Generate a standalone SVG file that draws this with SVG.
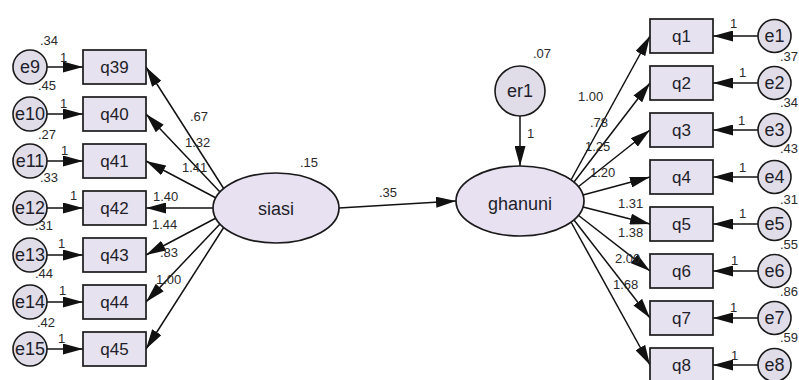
<svg xmlns="http://www.w3.org/2000/svg" width="799" height="380" viewBox="0 0 799 380">
  <style>
    .obs { fill: #e7e2ef; stroke: #1a1a1a; stroke-width: 1.7; }
    .lat { fill: #e8e1f1; stroke: #1a1a1a; stroke-width: 1.7; }
    .err { fill: #e0dde8; stroke: #1a1a1a; stroke-width: 1.6; }
    .path { stroke: #111; stroke-width: 1.5; fill: none; marker-end: url(#arr); }
    .nm { font-family: "Liberation Sans", Arial, sans-serif; font-size: 17px; fill: #1e1e2a; text-anchor: middle; }
    .lv { font-family: "Liberation Sans", Arial, sans-serif; font-size: 18px; fill: #1e1e2a; text-anchor: middle; }
    .est { font-family: "Liberation Sans", Arial, sans-serif; font-size: 13px; fill: #2a2a2a; }
  </style>
  <defs>
    <marker id="arr" markerUnits="userSpaceOnUse" markerWidth="20" markerHeight="11" refX="20" refY="5.5" orient="auto">
      <path d="M0,0 L20,5.5 L0,11 z" fill="#111"/>
    </marker>
  </defs>
  <rect width="799" height="380" fill="#ffffff"/>

  <!-- connectors -->
  <g id="connectors">
    <!-- siasi loadings -->
    <line class="path" x1="224" y1="189" x2="146" y2="67"/>
    <line class="path" x1="220" y1="192" x2="146" y2="114"/>
    <line class="path" x1="216" y1="198" x2="146" y2="161"/>
    <line class="path" x1="213" y1="208" x2="146" y2="208"/>
    <line class="path" x1="216" y1="218" x2="146" y2="255"/>
    <line class="path" x1="220" y1="224" x2="146" y2="302"/>
    <line class="path" x1="224" y1="227" x2="146" y2="349"/>
    <!-- left error terms -->
    <line class="path" x1="47" y1="67" x2="83" y2="67"/>
    <line class="path" x1="47" y1="114" x2="83" y2="114"/>
    <line class="path" x1="47" y1="161" x2="83" y2="161"/>
    <line class="path" x1="47" y1="208" x2="83" y2="208"/>
    <line class="path" x1="47" y1="255" x2="83" y2="255"/>
    <line class="path" x1="47" y1="302" x2="83" y2="302"/>
    <line class="path" x1="47" y1="349" x2="83" y2="349"/>
    <!-- structural path and disturbance -->
    <line class="path" x1="339" y1="208" x2="456" y2="201"/>
    <line class="path" x1="520" y1="116" x2="520" y2="166"/>
    <!-- ghanuni loadings -->
    <line class="path" x1="571" y1="180" x2="650" y2="36"/>
    <line class="path" x1="574" y1="182" x2="650" y2="83"/>
    <line class="path" x1="578" y1="187" x2="650" y2="130"/>
    <line class="path" x1="583" y1="195" x2="650" y2="177"/>
    <line class="path" x1="583" y1="207" x2="650" y2="224"/>
    <line class="path" x1="578" y1="215" x2="650" y2="271"/>
    <line class="path" x1="574" y1="220" x2="650" y2="318"/>
    <line class="path" x1="571" y1="222" x2="650" y2="365"/>
    <!-- right error terms -->
    <line class="path" x1="758" y1="36" x2="713" y2="36"/>
    <line class="path" x1="758" y1="83" x2="713" y2="83"/>
    <line class="path" x1="758" y1="130" x2="713" y2="130"/>
    <line class="path" x1="758" y1="177" x2="713" y2="177"/>
    <line class="path" x1="758" y1="224" x2="713" y2="224"/>
    <line class="path" x1="758" y1="271" x2="713" y2="271"/>
    <line class="path" x1="758" y1="318" x2="713" y2="318"/>
    <line class="path" x1="758" y1="365" x2="713" y2="365"/>
  </g>

  <!-- latent variables -->
  <g id="siasi">
    <ellipse class="lat" cx="276" cy="208" rx="63" ry="35"/>
    <text class="lv" x="276" y="215">siasi</text>
    <text class="est" x="300" y="167">.15</text>
  </g>
  <g id="ghanuni">
    <ellipse class="lat" cx="520" cy="201" rx="64" ry="35"/>
    <text class="lv" x="520" y="210">ghanuni</text>
  </g>
  <g id="er1">
    <circle class="err" cx="520" cy="91" r="25"/>
    <text class="lv" x="520" y="97">er1</text>
    <text class="est" x="533" y="58">.07</text>
  </g>

  <!-- siasi indicators -->
  <g id="q39"><rect class="obs" x="83" y="50" width="63" height="34"/><text class="nm" x="114.5" y="73">q39</text></g>
  <g id="q40"><rect class="obs" x="83" y="97" width="63" height="34"/><text class="nm" x="114.5" y="120">q40</text></g>
  <g id="q41"><rect class="obs" x="83" y="144" width="63" height="34"/><text class="nm" x="114.5" y="167">q41</text></g>
  <g id="q42"><rect class="obs" x="83" y="191" width="63" height="34"/><text class="nm" x="114.5" y="214">q42</text></g>
  <g id="q43"><rect class="obs" x="83" y="238" width="63" height="34"/><text class="nm" x="114.5" y="261">q43</text></g>
  <g id="q44"><rect class="obs" x="83" y="285" width="63" height="34"/><text class="nm" x="114.5" y="308">q44</text></g>
  <g id="q45"><rect class="obs" x="83" y="332" width="63" height="34"/><text class="nm" x="114.5" y="355">q45</text></g>

  <!-- left error terms -->
  <g id="e9"><circle class="err" cx="30" cy="67" r="17"/><text class="lv" x="30" y="73">e9</text></g>
  <g id="e10"><circle class="err" cx="30" cy="114" r="17"/><text class="lv" x="30" y="120">e10</text></g>
  <g id="e11"><circle class="err" cx="30" cy="161" r="17"/><text class="lv" x="30" y="167">e11</text></g>
  <g id="e12"><circle class="err" cx="30" cy="208" r="17"/><text class="lv" x="30" y="214">e12</text></g>
  <g id="e13"><circle class="err" cx="30" cy="255" r="17"/><text class="lv" x="30" y="261">e13</text></g>
  <g id="e14"><circle class="err" cx="30" cy="302" r="17"/><text class="lv" x="30" y="308">e14</text></g>
  <g id="e15"><circle class="err" cx="30" cy="349" r="17"/><text class="lv" x="30" y="355">e15</text></g>

  <!-- ghanuni indicators -->
  <g id="q1"><rect class="obs" x="650" y="19" width="63" height="34"/><text class="nm" x="681.5" y="42">q1</text></g>
  <g id="q2"><rect class="obs" x="650" y="66" width="63" height="34"/><text class="nm" x="681.5" y="89">q2</text></g>
  <g id="q3"><rect class="obs" x="650" y="113" width="63" height="34"/><text class="nm" x="681.5" y="136">q3</text></g>
  <g id="q4"><rect class="obs" x="650" y="160" width="63" height="34"/><text class="nm" x="681.5" y="183">q4</text></g>
  <g id="q5"><rect class="obs" x="650" y="207" width="63" height="34"/><text class="nm" x="681.5" y="230">q5</text></g>
  <g id="q6"><rect class="obs" x="650" y="254" width="63" height="34"/><text class="nm" x="681.5" y="277">q6</text></g>
  <g id="q7"><rect class="obs" x="650" y="301" width="63" height="34"/><text class="nm" x="681.5" y="324">q7</text></g>
  <g id="q8"><rect class="obs" x="650" y="348" width="63" height="34"/><text class="nm" x="681.5" y="371">q8</text></g>

  <!-- right error terms -->
  <g id="e1"><circle class="err" cx="774.5" cy="36" r="16.5"/><text class="lv" x="774.5" y="42">e1</text></g>
  <g id="e2"><circle class="err" cx="774.5" cy="83" r="16.5"/><text class="lv" x="774.5" y="89">e2</text></g>
  <g id="e3"><circle class="err" cx="774.5" cy="130" r="16.5"/><text class="lv" x="774.5" y="136">e3</text></g>
  <g id="e4"><circle class="err" cx="774.5" cy="177" r="16.5"/><text class="lv" x="774.5" y="183">e4</text></g>
  <g id="e5"><circle class="err" cx="774.5" cy="224" r="16.5"/><text class="lv" x="774.5" y="230">e5</text></g>
  <g id="e6"><circle class="err" cx="774.5" cy="271" r="16.5"/><text class="lv" x="774.5" y="277">e6</text></g>
  <g id="e7"><circle class="err" cx="774.5" cy="318" r="16.5"/><text class="lv" x="774.5" y="324">e7</text></g>
  <g id="e8"><circle class="err" cx="774.5" cy="365" r="16.5"/><text class="lv" x="774.5" y="371">e8</text></g>

  <!-- estimates: variances, fixed paths and loadings -->
  <g id="estimates" class="est">
    <text x="40" y="45">.34</text>
    <text x="38" y="90">.45</text>
    <text x="38" y="139">.27</text>
    <text x="40" y="182">.33</text>
    <text x="35" y="230">.31</text>
    <text x="35" y="278">.44</text>
    <text x="37" y="327">.42</text>

    <text x="60" y="62">1</text>
    <text x="60" y="108">1</text>
    <text x="61" y="155">1</text>
    <text x="70" y="200">1</text>
    <text x="58" y="248">1</text>
    <text x="59" y="295">1</text>
    <text x="58" y="343">1</text>

    <text x="190" y="121">.67</text>
    <text x="185" y="147">1.32</text>
    <text x="182" y="172">1.41</text>
    <text x="153" y="201">1.40</text>
    <text x="152" y="229">1.44</text>
    <text x="160" y="257">.83</text>
    <text x="156" y="284">1.00</text>

    <text x="379" y="197">.35</text>
    <text x="527" y="138">1</text>

    <text x="578" y="101">1.00</text>
    <text x="590" y="127">.78</text>
    <text x="585" y="151">1.25</text>
    <text x="590" y="177">1.20</text>
    <text x="618" y="208">1.31</text>
    <text x="618" y="237">1.38</text>
    <text x="615" y="263">2.00</text>
    <text x="613" y="289">1.68</text>

    <text x="730" y="28">1</text>
    <text x="739" y="77">1</text>
    <text x="738" y="125">1</text>
    <text x="739" y="172">1</text>
    <text x="739" y="218">1</text>
    <text x="731" y="265">1</text>
    <text x="730" y="312">1</text>
    <text x="731" y="360">1</text>

    <text x="780" y="61">.37</text>
    <text x="780" y="107">.34</text>
    <text x="780" y="153">.43</text>
    <text x="780" y="204">.31</text>
    <text x="780" y="249">.55</text>
    <text x="780" y="296">.86</text>
    <text x="780" y="342">.59</text>
  </g>
</svg>
